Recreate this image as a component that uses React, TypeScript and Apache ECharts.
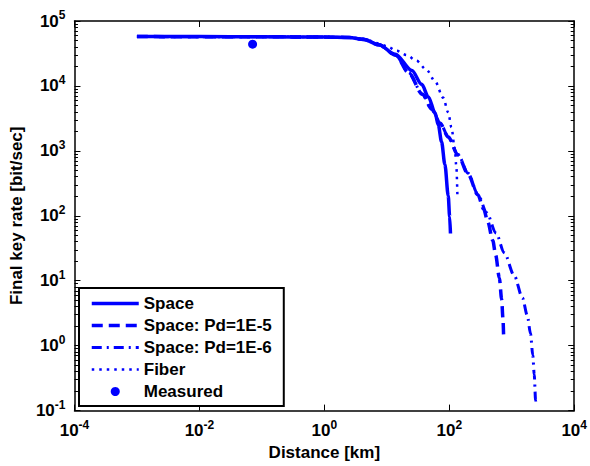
import React, { useEffect, useRef } from "react";
import * as echarts from "echarts";

// ---- tick labels / tick positions ----
const xTickValues = [1e-4, 1e-2, 1, 1e2, 1e4];
const yTickValues = [1e-1, 1, 1e1, 1e2, 1e3, 1e4, 1e5];
const yDecades = [1e-1, 1, 1e1, 1e2, 1e3, 1e4];
const yMinorMultipliers = [2, 3, 4, 5, 6, 7, 8, 9];

// ---- series (distance in km, final key rate in bit/s) ----
const spaceKm = [0.001, 0.01, 0.1, 1, 2.5, 4.32, 7.46, 13.7, 25.2, 36.2, 46.3, 59.2, 66.7, 75.2, 85.1, 96.2, 101.4, 104.5];
const spaceRate = [57500, 57500, 57300, 56600, 55800, 52100, 43000, 30700, 17300, 10570, 6780, 3860, 2510, 1380, 615, 204, 97, 53.5];

const pd5Km = [0.001, 0.1, 1, 2.5, 4.32, 7.46, 13.9, 22.3, 37.2, 52.2, 71.8, 96.2, 138, 200, 287, 357, 413, 497, 553, 634, 689, 723, 741];
const pd5Rate = [57500, 57300, 56600, 55800, 52100, 43000, 29600, 15960, 7410, 4390, 2640, 1630, 861, 438, 211, 125, 80.9, 41.7, 24.8, 11.0, 5.2, 2.64, 1.4];

const pd6Km = [0.001, 0.1, 1, 2.5, 4.32, 7.46, 13.9, 22.3, 37.2, 52.2, 71.8, 96.2, 138, 200, 287, 398, 560, 760, 1096, 1483, 1778, 1995, 2173, 2291, 2410, 2443];
const pd6Rate = [57500, 57300, 56600, 55800, 52100, 43000, 29800, 16100, 7500, 4450, 2680, 1660, 881, 451, 214, 111, 54.3, 26.9, 12.0, 5.47, 2.9, 1.54, 0.714, 0.359, 0.144, 0.117];

const fiberKm = [0.001, 0.1, 1, 2.5, 4.32, 7.46, 10, 14.4, 20.7, 29.9, 43.1, 59.2, 80.0, 96.2, 108.4, 122.7, 130, 134.9];
const fiberRate = [57500, 57300, 56600, 56000, 53100, 45200, 40700, 34700, 29900, 24400, 17800, 11800, 6560, 3910, 2300, 1060, 562, 205];

const measuredKm = [0.071];
const measuredRate = [44000];

const seriesNames = ["Space", "Space: Pd=1E-5", "Space: Pd=1E-6", "Fiber", "Measured"];

const FONT = "'Liberation Sans', Arial, Helvetica, sans-serif";
const BLUE = "#0000ff";

function zip(xs: number[], ys: number[]) {
  return xs.map((x, i) => [x, ys[i]]);
}

export default function App() {
  const ref = useRef<HTMLDivElement>(null);

  useEffect(() => {
    document.body.style.margin = "0";
    if (!ref.current) return;
    const chart = echarts.init(ref.current, null, { renderer: "svg" });

    const yMinor: number[] = [];
    yDecades.forEach((d) => yMinorMultipliers.forEach((m) => yMinor.push(d * m)));

    const expLabel = (v: number) => `{b|10}{s|${Math.round(Math.log10(v))}}`;
    const rich = {
      b: { fontSize: 17, fontWeight: "bold", fontFamily: FONT, color: "#000", lineHeight: 24 },
      s: { fontSize: 12, fontWeight: "bold", fontFamily: FONT, color: "#000", lineHeight: 12, verticalAlign: "top" },
    };
    const axisLineStyle = { show: true, onZero: false, lineStyle: { color: "#000", width: 1.5 } };
    const tickLine = { color: "#000", width: 1 };

    const baseX = {
      type: "log",
      logBase: 10,
      min: 1e-4,
      max: 1e4,
      gridIndex: 0,
      splitLine: { show: false },
      minorTick: { show: false },
    };
    const baseY = {
      type: "log",
      logBase: 10,
      min: 1e-1,
      max: 1e5,
      gridIndex: 0,
      splitLine: { show: false },
      minorTick: { show: false },
    };

    const lineLegendItem = (name: string) => ({ name, itemStyle: { opacity: 0 } });

    chart.setOption({
      animation: false,
      backgroundColor: "#fff",
      textStyle: { fontFamily: FONT },
      grid: { left: 72.5, right: 13, top: 21, bottom: 53, containLabel: false },
      xAxis: [
        {
          ...baseX,
          position: "bottom",
          name: "Distance [km]",
          nameLocation: "middle",
          nameGap: 32,
          nameTextStyle: { fontSize: 17, fontWeight: "bold", color: "#000", fontFamily: FONT },
          axisLine: axisLineStyle,
          axisTick: { show: true, inside: true, length: 6, customValues: xTickValues, lineStyle: tickLine },
          axisLabel: { show: true, margin: 8, customValues: xTickValues, formatter: expLabel, rich },
        },
        {
          ...baseX,
          position: "top",
          axisLine: axisLineStyle,
          axisTick: { show: true, inside: true, length: 6, customValues: xTickValues, lineStyle: tickLine },
          axisLabel: { show: false },
        },
      ],
      yAxis: [
        {
          ...baseY,
          position: "left",
          name: "Final key rate [bit/sec]",
          nameLocation: "middle",
          nameGap: 42,
          nameTextStyle: { fontSize: 17, fontWeight: "bold", color: "#000", fontFamily: FONT },
          axisLine: axisLineStyle,
          axisTick: { show: true, inside: true, length: 6, customValues: yTickValues, lineStyle: tickLine },
          axisLabel: { show: true, margin: 9, customValues: yTickValues, formatter: expLabel, rich },
        },
        {
          ...baseY,
          position: "right",
          axisLine: axisLineStyle,
          axisTick: { show: true, inside: true, length: 6, customValues: yTickValues, lineStyle: tickLine },
          axisLabel: { show: false },
        },
        {
          ...baseY,
          position: "left",
          axisLine: { show: false, onZero: false },
          axisTick: { show: true, inside: true, length: 3.5, customValues: yMinor, lineStyle: tickLine },
          axisLabel: { show: false },
        },
        {
          ...baseY,
          position: "right",
          axisLine: { show: false, onZero: false },
          axisTick: { show: true, inside: true, length: 3.5, customValues: yMinor, lineStyle: tickLine },
          axisLabel: { show: false },
        },
      ],
      legend: {
        orient: "vertical",
        left: 79,
        top: 288,
        padding: [7, 12, 6, 11],
        itemWidth: 47,
        itemHeight: 9,
        itemGap: 5,
        backgroundColor: "#fff",
        borderColor: "#000",
        borderWidth: 2,
        borderRadius: 0,
        textStyle: { fontSize: 17, fontWeight: "bold", color: "#000", fontFamily: FONT },
        lineStyle: { width: "inherit" },
        data: [
          lineLegendItem(seriesNames[0]),
          lineLegendItem(seriesNames[1]),
          lineLegendItem(seriesNames[2]),
          lineLegendItem(seriesNames[3]),
          { name: seriesNames[4], itemStyle: { opacity: 1 } },
        ],
      },
      series: [
        {
          name: seriesNames[3],
          type: "line",
          xAxisIndex: 0,
          yAxisIndex: 0,
          data: zip(fiberKm, fiberRate),
          symbol: "none",
          smooth: 0.3,
          smoothMonotone: "x",
          lineStyle: { color: BLUE, width: 2.5, type: [2.5, 5] },
          itemStyle: { color: BLUE },
          z: 2,
        },
        {
          name: seriesNames[2],
          type: "line",
          xAxisIndex: 0,
          yAxisIndex: 0,
          data: zip(pd6Km, pd6Rate),
          symbol: "none",
          smooth: 0.3,
          smoothMonotone: "x",
          lineStyle: { color: BLUE, width: 3, type: [10, 5, 2, 5] },
          itemStyle: { color: BLUE },
          z: 3,
        },
        {
          name: seriesNames[1],
          type: "line",
          xAxisIndex: 0,
          yAxisIndex: 0,
          data: zip(pd5Km, pd5Rate),
          symbol: "none",
          smooth: 0.3,
          smoothMonotone: "x",
          lineStyle: { color: BLUE, width: 3.5, type: [11, 6] },
          itemStyle: { color: BLUE },
          z: 4,
        },
        {
          name: seriesNames[0],
          type: "line",
          xAxisIndex: 0,
          yAxisIndex: 0,
          data: zip(spaceKm, spaceRate),
          symbol: "none",
          smooth: 0.3,
          smoothMonotone: "x",
          lineStyle: { color: BLUE, width: 3.5, type: "solid" },
          itemStyle: { color: BLUE },
          z: 5,
        },
        {
          name: seriesNames[4],
          type: "scatter",
          xAxisIndex: 0,
          yAxisIndex: 0,
          data: zip(measuredKm, measuredRate),
          symbol: "circle",
          symbolSize: 9,
          itemStyle: { color: BLUE, opacity: 1 },
          z: 6,
        },
      ],
    });

    return () => chart.dispose();
  }, []);

  return <div ref={ref} style={{ width: 590, height: 466 }} />;
}
